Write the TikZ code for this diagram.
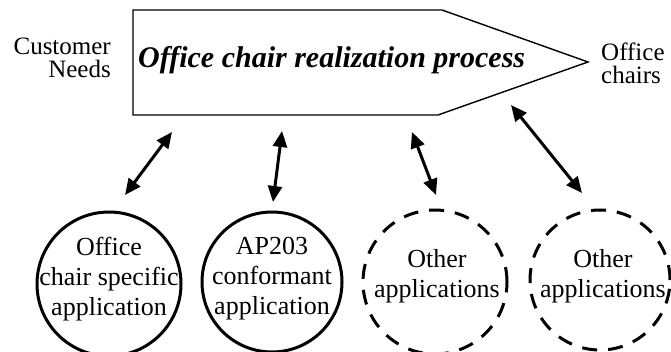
\documentclass[tikz,border=0pt]{standalone}
\usepackage{fontspec}
\setmainfont{Liberation Serif}
\usetikzlibrary{arrows.meta}

\tikzset{
  procbox/.style={line width=1.4pt, line join=miter},
  appcircle/.style={circle, draw, line width=3pt, minimum size=#1, inner sep=0pt},
  othercircle/.style={appcircle=#1, dash pattern=on 15pt off 11pt},
  apptext/.style={align=center, font=\fontsize{26}{30}\selectfont},
  sidelabel/.style={font=\fontsize{25}{23}\selectfont, inner sep=0pt},
  link/.style={line width=3pt, {Triangle[length=16pt,width=14pt]}-{Triangle[length=16pt,width=14pt]}},
}

\begin{document}
\begin{tikzpicture}[x=1pt,y=1pt]
\useasboundingbox (0,0) rectangle (671,-352);

% process arrow (pentagon)
\coordinate (pA) at (133,-10);
\coordinate (pB) at (442,-10);
\coordinate (pC) at (588,-62);
\coordinate (pD) at (438,-115);
\coordinate (pE) at (133,-115);
\draw[procbox] (pA) -- (pB) -- (pC) -- (pD) -- (pE) -- cycle;
\node[anchor=west, inner sep=0pt, font=\fontsize{30}{32}\selectfont\bfseries\itshape]
  (proc) at (138,-60) {Office chair realization process};

% inputs and outputs
\node[sidelabel, align=right, anchor=east] (needs) at (111,-58) {Customer\\Needs};
\node[sidelabel, align=left, anchor=west] (chairs) at (601,-63) {Office\\chairs};

% applications
\node[appcircle=144pt] (c1) at (109,-284) {};
\node[apptext] (t1) at (109,-279) {Office\\chair specific\\application};
\node[appcircle=140pt] (c2) at (272,-282) {};
\node[apptext] (t2) at (272,-279) {AP203\\conformant\\application};
\node[othercircle=144pt] (c3) at (435,-282) {};
\node[apptext] (t3) at (437,-276) {Other\\applications};
\node[othercircle=140pt] (c4) at (600,-280) {};
\node[apptext] (t4) at (603,-276) {Other\\applications};

% exchange arrows
\coordinate (a1t) at (172,-132); \coordinate (a1b) at (125,-195);
\coordinate (a2t) at (282,-131); \coordinate (a2b) at (273,-202);
\coordinate (a3t) at (412,-132); \coordinate (a3b) at (436,-195);
\coordinate (a4t) at (511,-105); \coordinate (a4b) at (582,-193);
\draw[link] (a1b) -- (a1t);
\draw[link] (a2b) -- (a2t);
\draw[link] (a3b) -- (a3t);
\draw[link] (a4b) -- (a4t);
\end{tikzpicture}
\end{document}
